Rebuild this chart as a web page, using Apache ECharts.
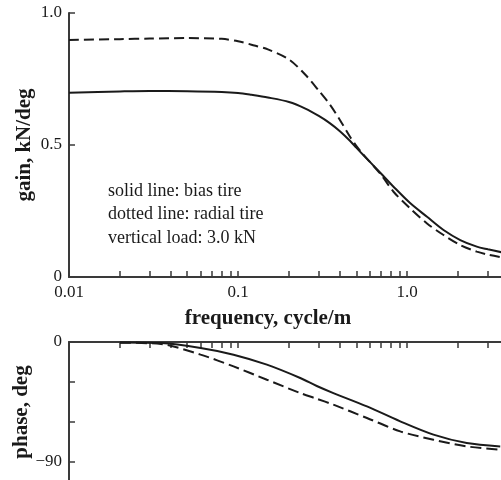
<!DOCTYPE html>
<html>
<head>
<meta charset="utf-8">
<script src="https://cdn.jsdelivr.net/npm/echarts@6/dist/echarts.min.js"></script>
<style>
  html, body { margin: 0; padding: 0; background: #fff; }
  #chart { width: 501px; height: 480px; }
</style>
</head>
<body>
<div id="chart"></div>
<script>
// Frequency response of tire cornering force: gain and phase vs. frequency
const gainFreq   = [0.01, 0.02, 0.03, 0.05, 0.08, 0.1, 0.12, 0.15, 0.2, 0.25, 0.3, 0.35, 0.4, 0.46, 0.5, 0.55, 0.6, 0.7, 0.83, 1.04, 1.31, 1.64, 2.06, 2.58, 3.0, 3.6];
const gainBias   = [0.698, 0.703, 0.705, 0.704, 0.701, 0.697, 0.69, 0.68, 0.663, 0.638, 0.61, 0.582, 0.552, 0.515, 0.49, 0.462, 0.437, 0.392, 0.342, 0.28, 0.228, 0.178, 0.14, 0.115, 0.105, 0.094];
const gainRadial = [0.898, 0.901, 0.903, 0.905, 0.902, 0.893, 0.88, 0.862, 0.824, 0.766, 0.706, 0.652, 0.595, 0.53, 0.497, 0.464, 0.437, 0.388, 0.323, 0.26, 0.203, 0.159, 0.121, 0.096, 0.085, 0.075];

const phaseFreq   = [0.02, 0.035, 0.06, 0.094, 0.148, 0.233, 0.292, 0.366, 0.578, 0.909, 1.43, 2.25, 3.55];
const phaseBias   = [-0.3, -0.8, -4.5, -9.5, -17, -27, -33, -38.3, -48.3, -59.5, -69.5, -75.8, -78.3];
const phaseRadial = [-0.5, -1.5, -9.5, -18.3, -28.3, -38.3, -42.6, -47, -57, -67, -73.3, -78.3, -80.8];

const freqTicks  = [0.01, 0.02, 0.03, 0.04, 0.05, 0.06, 0.07, 0.08, 0.09, 0.1, 0.2, 0.3, 0.4, 0.5, 0.6, 0.7, 0.8, 0.9, 1, 2, 3, 4];
const freqLabels = [0.01, 0.1, 1];
const gainTicks  = [0, 0.5, 1];
const phaseTicks = [0, -30, -60, -90];
const phaseLabels = [0, -90];
const notes = ['solid line: bias tire', 'dotted line: radial tire', 'vertical load: 3.0 kN'];

const SERIF = '"Liberation Serif", "DejaVu Serif", serif';
const INK = '#1a1a1a';
const AXIS = '#3a3a3a';

const zip = (xs, ys) => xs.map((x, i) => [x, ys[i]]);

const fmtFreq = v => {
  const n = Number(v.toPrecision(3));
  return n === 1 ? '1.0' : String(n);
};

const axisLine = () => ({ show: true, onZero: false, lineStyle: { color: AXIS, width: 2 } });
const tickStyle = { color: AXIS, width: 1.5 };
const curve = (data, xi, dash) => ({
  type: 'line', xAxisIndex: xi, yAxisIndex: xi, data,
  smooth: 0.3, showSymbol: false, clip: true,
  lineStyle: dash ? { color: INK, width: 2, type: dash } : { color: INK, width: 2 }
});
const yName = (text, gap) => ({
  name: text, nameLocation: 'middle', nameGap: gap, nameMoveOverlap: false,
  nameTextStyle: { fontFamily: SERIF, fontSize: 21, fontWeight: 'bold', color: INK }
});

const chart = echarts.init(document.getElementById('chart'), null, { renderer: 'canvas' });

chart.setOption({
  animation: false,
  backgroundColor: '#fff',
  // the frequency axis runs a little past the right edge of the page (to 4 cycle/m)
  grid: [
    { left: 69, top: 13, width: 440, height: 264, outerBoundsMode: 'none', containLabel: false },
    { left: 69, top: 342, width: 440, height: 140, outerBoundsMode: 'none', containLabel: false }
  ],
  xAxis: [
    {
      type: 'log', logBase: 10, min: 0.01, max: 4, gridIndex: 0, position: 'bottom',
      axisLine: axisLine(),
      axisTick: { show: true, inside: true, length: 6, lineStyle: tickStyle, customValues: freqTicks },
      axisLabel: { show: true, customValues: freqLabels, formatter: fmtFreq, margin: 7,
                   fontFamily: SERIF, fontSize: 17, color: INK },
      splitLine: { show: false },
      name: 'frequency, cycle/m', nameLocation: 'middle', nameGap: 31, nameMoveOverlap: false,
      nameTextStyle: { fontFamily: SERIF, fontSize: 21, fontWeight: 'bold', color: INK, padding: [0, 42, 0, 0] }
    },
    {
      type: 'log', logBase: 10, min: 0.01, max: 4, gridIndex: 1, position: 'top',
      axisLine: axisLine(),
      axisTick: { show: true, inside: true, length: 6, lineStyle: tickStyle, customValues: freqTicks },
      axisLabel: { show: false },
      splitLine: { show: false }
    }
  ],
  yAxis: [
    Object.assign({
      type: 'value', min: 0, max: 1, gridIndex: 0, position: 'left',
      axisLine: axisLine(),
      axisTick: { show: true, inside: true, length: 6, lineStyle: tickStyle, customValues: gainTicks },
      axisLabel: { customValues: gainTicks, margin: 7, fontFamily: SERIF, fontSize: 17, color: INK,
                   formatter: v => (v === 1 ? '1.0' : String(v)) },
      splitLine: { show: false }
    }, yName('gain, kN/deg', 34)),
    Object.assign({
      type: 'value', min: -105, max: 0, gridIndex: 1, position: 'left',
      axisLine: axisLine(),
      axisTick: { show: true, inside: true, length: 6, lineStyle: tickStyle, customValues: phaseTicks },
      axisLabel: { customValues: phaseLabels, margin: 7, fontFamily: SERIF, fontSize: 17, color: INK,
                   formatter: v => (v < 0 ? '\u2212' + Math.abs(v) : String(v)) },
      splitLine: { show: false }
    }, yName('phase, deg', 37))
  ],
  series: [
    Object.assign(curve(zip(gainFreq, gainBias), 0), { name: 'bias gain' }),
    Object.assign(curve(zip(gainFreq, gainRadial), 0, [10, 5]), { name: 'radial gain' }),
    Object.assign(curve(zip(phaseFreq, phaseBias), 1), { name: 'bias phase' }),
    Object.assign(curve(zip(phaseFreq, phaseRadial), 1, [11, 5]), { name: 'radial phase' })
  ],
  graphic: notes.map((t, i) => ({
    type: 'text', left: 108, top: 182 + i * 23.5,
    style: { text: t, fontFamily: SERIF, fontSize: 18, fill: INK }
  }))
});
</script>
</body>
</html>
